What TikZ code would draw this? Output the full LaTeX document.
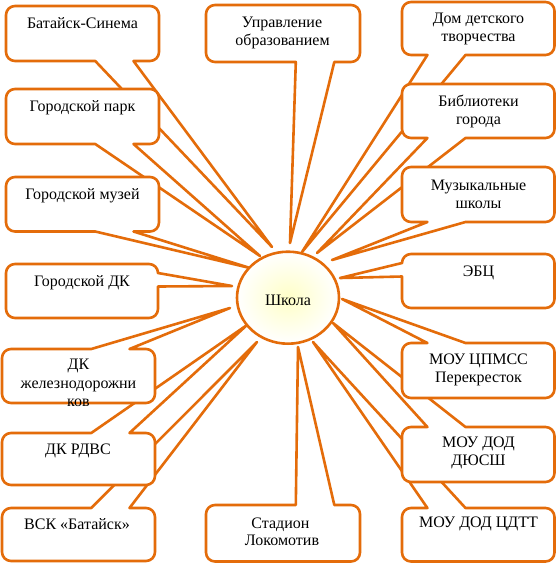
\documentclass[tikz,border=0pt]{standalone}
\usepackage{fontspec}
\setmainfont{Liberation Serif}
\usetikzlibrary{shapes.geometric}
\definecolor{orng}{RGB}{228,108,10}
\def\R{9}
\def\K{4.03}
\tikzset{
  callout/.style={draw=orng, line width=2.6pt, fill=white, line join=round},
  lbl/.style={anchor=base, inner sep=0pt, font=\fontsize{16}{18}\selectfont}
}
% #1 left, #2 top, #3 right, #4 bottom, #5 #6 wedge base, #7 tip
\newcommand\cbBot[7]{%
\path[callout] (#1+\R,#2) -- (#3-\R,#2)
 .. controls (#3-\K,#2) and (#3,#2+\K) .. (#3,#2+\R) -- (#3,#4-\R)
 .. controls (#3,#4-\K) and (#3-\K,#4) .. (#3-\R,#4) -- (#6,#4) -- (#7) -- (#5,#4) -- (#1+\R,#4)
 .. controls (#1+\K,#4) and (#1,#4-\K) .. (#1,#4-\R) -- (#1,#2+\R)
 .. controls (#1,#2+\K) and (#1+\K,#2) .. (#1+\R,#2) -- cycle;}
\newcommand\cbTop[7]{%
\path[callout] (#1+\R,#2) -- (#5,#2) -- (#7) -- (#6,#2) -- (#3-\R,#2)
 .. controls (#3-\K,#2) and (#3,#2+\K) .. (#3,#2+\R) -- (#3,#4-\R)
 .. controls (#3,#4-\K) and (#3-\K,#4) .. (#3-\R,#4) -- (#1+\R,#4)
 .. controls (#1+\K,#4) and (#1,#4-\K) .. (#1,#4-\R) -- (#1,#2+\R)
 .. controls (#1,#2+\K) and (#1+\K,#2) .. (#1+\R,#2) -- cycle;}
\newcommand\cbLeft[7]{%
\path[callout] (#1+\R,#2) -- (#3-\R,#2)
 .. controls (#3-\K,#2) and (#3,#2+\K) .. (#3,#2+\R) -- (#3,#4-\R)
 .. controls (#3,#4-\K) and (#3-\K,#4) .. (#3-\R,#4) -- (#1+\R,#4)
 .. controls (#1+\K,#4) and (#1,#4-\K) .. (#1,#4-\R) -- (#1,#6) -- (#7) -- (#1,#5) -- (#1,#2+\R)
 .. controls (#1,#2+\K) and (#1+\K,#2) .. (#1+\R,#2) -- cycle;}
\newcommand\cbRight[7]{%
\path[callout] (#1+\R,#2) -- (#3-\R,#2)
 .. controls (#3-\K,#2) and (#3,#2+\K) .. (#3,#2+\R) -- (#3,#5) -- (#7) -- (#3,#6) -- (#3,#4-\R)
 .. controls (#3,#4-\K) and (#3-\K,#4) .. (#3-\R,#4) -- (#1+\R,#4)
 .. controls (#1+\K,#4) and (#1,#4-\K) .. (#1,#4-\R) -- (#1,#2+\R)
 .. controls (#1,#2+\K) and (#1+\K,#2) .. (#1+\R,#2) -- cycle;}
\begin{document}
\begin{tikzpicture}[x=1pt,y=-1pt]
\useasboundingbox (0,0) rectangle (556,563);
\fill[white] (0,0) rectangle (556,563);
% wedge tips
\coordinate (tBat) at (272,247);
\coordinate (tPark) at (260,256);
\coordinate (tMuz) at (250,268);
\coordinate (tGdk) at (232,286);
\coordinate (tZd) at (230,308);
\coordinate (tRdvs) at (247,325);
\coordinate (tVsk) at (257,342);
\coordinate (tUpr) at (290,243);
\coordinate (tStad) at (298,347);
\coordinate (tDdt) at (302,252);
\coordinate (tBib) at (317,253);
\coordinate (tMus) at (332,260);
\coordinate (tEbc) at (340,278);
\coordinate (tCpm) at (342,299);
\coordinate (tDyu) at (333,323);
\coordinate (tCdtt) at (313,342);
% callouts (drawing order gives the overlaps)
\cbTop{2}{508}{155}{561}{91.25}{129.5}{tVsk}
\cbTop{2}{433}{155}{485}{91.25}{129.5}{tRdvs}
\cbTop{2}{349}{155}{403}{91.25}{129.5}{tZd}
\cbRight{6}{264}{158}{318}{273}{286.5}{tGdk}
\cbBot{6}{6}{159}{61}{95.25}{133.5}{tBat}
\cbBot{6}{89}{159}{144}{95.25}{133.5}{tPark}
\cbBot{6}{177}{159}{231.5}{95.25}{133.5}{tMuz}
\cbBot{206}{5}{360}{62}{295.8}{334.3}{tUpr}
\cbTop{206}{505}{360}{561.5}{295.8}{334.3}{tStad}
\cbBot{402}{2}{554.5}{55}{427.4}{465.5}{tDdt}
\cbBot{402}{84}{554.5}{138}{427.4}{465.5}{tBib}
\cbBot{402}{167}{554.5}{222}{427.4}{465.5}{tMus}
\cbLeft{402}{254}{554.5}{308}{263}{276.5}{tEbc}
\cbTop{402}{508}{554.5}{561.5}{427.4}{465.5}{tCdtt}
\cbTop{402}{427}{554.5}{482}{427.4}{465.5}{tDyu}
\cbTop{402}{343}{554.5}{398}{427.4}{465.5}{tCpm}
% centre
\node[ellipse, draw=orng, line width=2.6pt, minimum width=102pt, minimum height=92pt,
      inner sep=0pt, inner color=yellow!22, outer color=white] (school) at (288,297.7) {};
% texts
\node[lbl] (lSchool) at (288,305) {Школа};
\node[lbl] (lBat) at (82.5,28) {Батайск-Синема};
\node[lbl] (lPark) at (82.5,111) {Городской парк};
\node[lbl] (lMuz) at (82.5,199) {Городской музей};
\node[lbl] (lGdk) at (82,286) {Городской ДК};
\node[lbl] (lZd1) at (78.5,369.5) {ДК};
\node[lbl] (lZd2) at (78.5,388) {железнодорожни};
\node[lbl] (lZd3) at (78.5,406) {ков};
\node[lbl] (lRdvs) at (78,454) {ДК РДВС};
\node[lbl] (lVsk) at (77,529) {ВСК «Батайск»};
\node[lbl] (lUpr1) at (282,27) {Управление};
\node[lbl] (lUpr2) at (282.5,45) {образованием};
\node[lbl] (lStad1) at (280.5,528) {Стадион};
\node[lbl] (lStad2) at (282,545.5) {Локомотив};
\node[lbl] (lDdt1) at (478.5,23.5) {Дом детского};
\node[lbl] (lDdt2) at (478.5,41) {творчества};
\node[lbl] (lBib1) at (478.5,106) {Библиотеки};
\node[lbl] (lBib2) at (478.5,124) {города};
\node[lbl] (lMus1) at (478.5,190.5) {Музыкальные};
\node[lbl] (lMus2) at (478.5,208.5) {школы};
\node[lbl] (lEbc) at (478.5,276) {ЭБЦ};
\node[lbl] (lCpm1) at (478.5,364) {МОУ ЦПМСС};
\node[lbl] (lCpm2) at (478.5,382) {Перекресток};
\node[lbl] (lDyu1) at (478.5,447.5) {МОУ ДОД};
\node[lbl] (lDyu2) at (478.5,465.5) {ДЮСШ};
\node[lbl] (lCdtt) at (478.5,527) {МОУ ДОД ЦДТТ};
\end{tikzpicture}
\end{document}
